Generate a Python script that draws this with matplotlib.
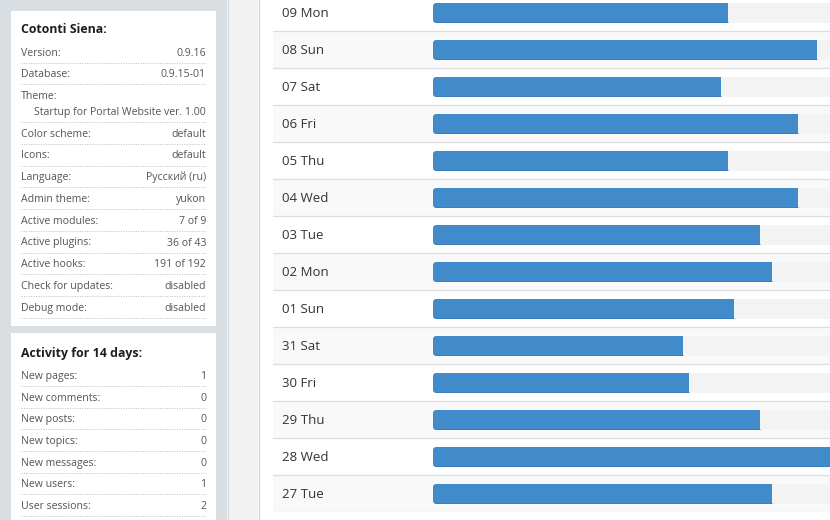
import matplotlib
matplotlib.use("Agg")
import matplotlib.pyplot as plt
from matplotlib.patches import Rectangle, FancyBboxPatch
from matplotlib.transforms import blended_transform_factory

plt.rcParams['font.family'] = ['Open Sans', 'DejaVu Sans']

# ---------------- data ----------------
days = ["09 Mon", "08 Sun", "07 Sat", "06 Fri", "05 Thu", "04 Wed", "03 Tue",
        "02 Mon", "01 Sun", "31 Sat", "30 Fri", "29 Thu", "28 Wed", "27 Tue"]
hits_pct = [67.5, 87.9, 65.9, 83.5, 67.5, 83.5, 74.8,
            77.6, 68.9, 57.2, 58.6, 74.8, 100.0, 77.6]
track_pct = 100

info_title = "Cotonti Siena:"
info_labels = ["Version:", "Database:", "Theme:", "Color scheme:", "Icons:",
               "Language:", "Admin theme:", "Active modules:", "Active plugins:",
               "Active hooks:", "Check for updates:", "Debug mode:"]
info_values = ["0.9.16", "0.9.15-01", "Startup for Portal Website ver. 1.00",
               "default", "default", "Русский (ru)", "yukon", "7 of 9",
               "36 of 43", "191 of 192", "disabled", "disabled"]

activity_title = "Activity for 14 days:"
activity_labels = ["New pages:", "New comments:", "New posts:", "New topics:",
                   "New messages:", "New users:", "User sessions:"]
activity_values = ["1", "0", "0", "0", "0", "1", "2"]

# ---------------- figure ----------------
W, H = 830, 520
fig = plt.figure(figsize=(W / 100, H / 100), dpi=100, facecolor='white')

bg = fig.add_axes([0, 0, 1, 1], zorder=0)
bg.set_xlim(0, W)
bg.set_ylim(H, 0)
bg.axis('off')

bg.add_patch(Rectangle((0, 0), 227, H, color='#d9dee2', lw=0))
bg.add_patch(Rectangle((227, 0), 31, H, color='#f1f1f1', lw=0))
bg.plot([258.5, 258.5], [0, H], color='#cdcdcd', lw=0.8)
bg.plot([227.5, 227.5], [0, H], color='#cfd4d8', lw=0.6)

# boxes
bg.add_patch(Rectangle((11, 11), 205, 315, color='white', lw=0))
bg.add_patch(Rectangle((11, 333), 205, 200, color='white', lw=0))

small = dict(fontsize=7.6, color='#555555')
title = dict(fontsize=8.9, color='#1e1e1e', fontweight='bold')

bg.text(21, 33, info_title, **title)
y = 51.5
for lab, val in zip(info_labels, info_values):
    bg.text(21, y + 4, lab, ha='left', va='baseline', **small)
    if lab == "Theme:":
        y += 16
    bg.text(206, y + 4, val, ha='right', va='baseline', **small)
    bg.plot([21, 206], [y + 11, y + 11], color='#bdbdbd', lw=0.7, ls=(0, (1, 1.5)))
    y += 21.75

bg.text(21, 357, activity_title, **title)
y = 375
for lab, val in zip(activity_labels, activity_values):
    bg.text(21, y + 4, lab, ha='left', va='baseline', **small)
    bg.text(206, y + 4, val, ha='right', va='baseline', **small)
    bg.plot([21, 206], [y + 11, y + 11], color='#bdbdbd', lw=0.7, ls=(0, (1, 1.5)))
    y += 21.7

# ---------------- bar chart ----------------
x_left_px, x_zero_px, x_full_px = 273, 433, 870
px_per_unit = (x_full_px - x_zero_px) / track_pct
left_units = (x_zero_px - x_left_px) / px_per_unit
row_px = 37

ax = fig.add_axes([x_left_px / W, 8 / H, (x_full_px - x_left_px) / W, 518 / H], zorder=1)
ax.set_xlim(-left_units, track_pct)
ax.set_ylim(len(days) - 0.5, -0.5)
ax.axis('off')

ypos = list(range(len(days)))
for i in ypos:
    if i % 2 == 1:
        ax.axhspan(i - 0.5, i + 0.5, color='#f9f9f9', lw=0, zorder=0)
    ax.axhline(i + 0.5, color='#dddddd', lw=0.9, zorder=0.5)

bar_h = 20 / row_px
ytrack = [i + 0.5 / row_px for i in ypos]
tracks = ax.barh(ytrack, [track_pct] * len(days), height=bar_h, color='#f3f3f3', lw=0, zorder=1)
bars = ax.barh(ytrack, hits_pct, height=bar_h, color='#428bca', lw=0, zorder=2)

r_units = 3.5 / px_per_unit
aspect = (3.5 / row_px) / r_units


def round_left(rect, color, z):
    x, y0 = rect.get_x(), rect.get_y()
    w, h = rect.get_width(), rect.get_height()
    ax.add_patch(FancyBboxPatch((x, y0), 3 * r_units, h,
                                boxstyle=f"round,pad=0,rounding_size={r_units}",
                                mutation_aspect=aspect, fc=color, ec='none', zorder=z))
    rect.set_x(x + r_units)
    rect.set_width(w - r_units)


for rect in tracks:
    round_left(rect, '#f3f3f3', 1)
for rect in bars:
    round_left(rect, '#428bca', 2)
    # subtle darker bottom edge
    ax.plot([rect.get_x() - r_units * 0.3, rect.get_x() + rect.get_width()],
            [rect.get_y() + rect.get_height() - 0.6 / row_px] * 2,
            color='#3b7cb6', lw=0.6, zorder=3, solid_capstyle='butt')

tr = blended_transform_factory(ax.transAxes, ax.transData)
for i, d in zip(ypos, days):
    ax.text(9 / (x_full_px - x_left_px), i + 4.2 / row_px, d, transform=tr,
            ha='left', va='baseline', fontsize=9.5, color='#333333')

fig.savefig('out.png', dpi=100, facecolor='white')
